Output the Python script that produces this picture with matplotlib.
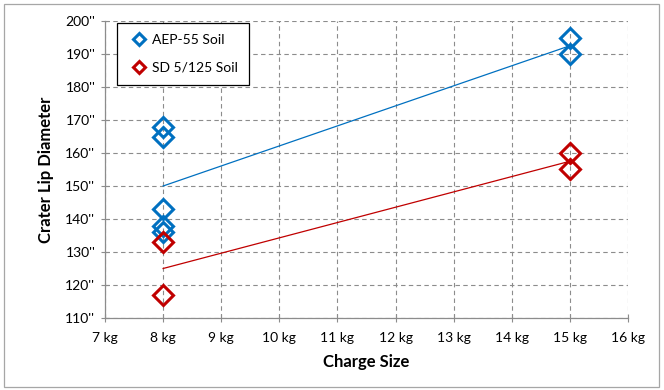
import matplotlib.pyplot as plt
import numpy as np
from matplotlib.patches import Rectangle
from matplotlib.ticker import FuncFormatter

# charge size (kg) and crater lip diameter (inches)
aep_kg = [8, 8, 8, 8, 8, 15, 15]
aep_dia = [168, 165, 143, 138, 136, 195, 190]
sd_kg = [8, 8, 15, 15]
sd_dia = [133, 117, 160, 155]

x_ticks = list(range(7, 17))
y_ticks = list(range(110, 201, 10))

blue = '#0070C0'
red = '#C00000'

plt.rcParams['font.family'] = ['Lato', 'DejaVu Sans']

fig = plt.figure(figsize=(6.64, 3.90), dpi=100)
ax = fig.add_axes([105/664, 1 - 318/390, (628-105)/664, (318-21)/390])

# outer chart border
fig.patches.append(Rectangle((4/664, 3/390), 655/664, 383/390, transform=fig.transFigure,
                             fill=False, edgecolor='#A6A6A6', linewidth=0.9))

ax.plot(aep_kg, aep_dia, 'D', markerfacecolor='none', markeredgecolor=blue,
        markersize=10, markeredgewidth=2.2, label='AEP-55 Soil', zorder=4)
ax.plot(sd_kg, sd_dia, 'D', markerfacecolor='none', markeredgecolor=red,
        markersize=10, markeredgewidth=2.2, label='SD 5/125 Soil', zorder=4)

# linear trendlines
for xs, ys, c in [(aep_kg, aep_dia, blue), (sd_kg, sd_dia, red)]:
    m, b = np.polyfit(xs, ys, 1)
    xx = np.array([min(xs), max(xs)])
    ax.plot(xx, m * xx + b, color=c, linewidth=0.9, zorder=3)

ax.set_xlim(7, 16)
ax.set_ylim(110, 200)
ax.set_xticks(x_ticks)
ax.set_yticks(y_ticks)
ax.xaxis.set_major_formatter(FuncFormatter(lambda v, p: f'{int(v)} kg'))
ax.yaxis.set_major_formatter(FuncFormatter(lambda v, p: f"{int(v)}''"))
ax.tick_params(direction='inout', length=6, width=0.8, color='#8C8C8C',
               labelsize=10, pad=4)
ax.tick_params(axis='x', pad=7)

ax.grid(True, linestyle=(0, (4, 3)), color='#8C8C8C', linewidth=0.8)
ax.set_axisbelow(True)
for s in ['top', 'right']:
    ax.spines[s].set_visible(False)
for s in ['left', 'bottom']:
    ax.spines[s].set_color('#8C8C8C')
    ax.spines[s].set_linewidth(0.9)

ax.set_xlabel('Charge Size', fontsize=12, fontweight='bold', labelpad=7)
ax.set_ylabel('Crater Lip Diameter', fontsize=12, fontweight='bold', labelpad=8)

leg = ax.legend(loc='upper left', bbox_to_anchor=(12/523, 295/297), fontsize=10,
                markerscale=0.65, handletextpad=0.2, handlelength=1.5,
                borderpad=0.8, labelspacing=1.1, borderaxespad=0,
                fancybox=False, framealpha=1)
leg.get_frame().set_edgecolor('black')
leg.get_frame().set_linewidth(0.9)

fig.savefig('out.png', dpi=100)
